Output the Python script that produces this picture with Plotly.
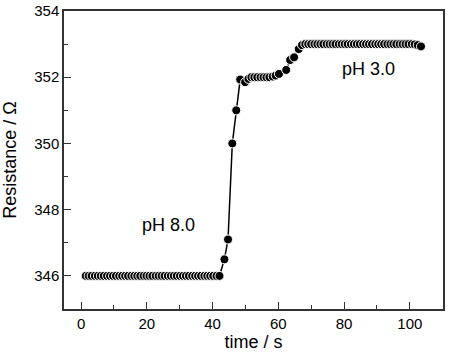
import plotly.graph_objects as go

# time (s) and resistance (Ohm)
plateau1_t = [1.4, 2.3, 3.2, 4.2, 5.1, 6.0, 6.9, 7.9, 8.8, 9.7, 10.6, 11.6, 12.5, 13.4,
              14.3, 15.3, 16.2, 17.1, 18.0, 19.0, 19.9, 20.8, 21.7, 22.7, 23.6, 24.5,
              25.4, 26.4, 27.3, 28.2, 29.1, 30.1, 31.0, 31.9, 32.8, 33.8, 34.7, 35.6,
              36.5, 37.5, 38.4, 39.3, 40.2, 41.2, 42.1]
plateau1_r = [346.0] * 45

step1_t = [43.6, 44.7, 46.0, 47.2, 48.4]
step1_r = [346.5, 347.1, 350.0, 351.0, 351.93]

plateau2_t = [49.9, 50.9, 51.8, 52.7, 53.6, 54.6, 55.5, 56.4, 57.3, 58.3, 59.2, 60.2]
plateau2_r = [351.85, 351.95, 352.0, 352.0, 352.0, 352.0, 352.0, 352.0, 352.0, 352.02,
              352.05, 352.1]

step2_t = [62.4, 63.6, 64.8, 66.2, 67.2]
step2_r = [352.22, 352.52, 352.6, 352.85, 352.97]

plateau3_t = [68.2, 69.1, 70.0, 71.0, 71.9, 72.8, 73.7, 74.7, 75.6, 76.5, 77.4, 78.4,
              79.3, 80.2, 81.1, 82.1, 83.0, 83.9, 84.8, 85.8, 86.7, 87.6, 88.5, 89.5,
              90.4, 91.3, 92.2, 93.2, 94.1, 95.0, 95.9, 96.9, 97.8, 98.7, 99.6, 100.6,
              101.5, 102.4, 103.4]
plateau3_r = [353.0] * 36 + [352.99, 352.97, 352.93]

time_s = plateau1_t + step1_t + plateau2_t + step2_t + plateau3_t
resistance = plateau1_r + step1_r + plateau2_r + step2_r + plateau3_r

labels = ["pH 8.0", "pH 3.0"]
label_x = [26.5, 87.3]
label_y = [347.55, 352.24]

x_ticks = [0, 20, 40, 60, 80, 100]
y_ticks = [346, 348, 350, 352, 354]

FONT = "Liberation Sans, Arial"

fig = go.Figure()
fig.add_trace(go.Scatter(
    x=time_s, y=resistance, mode="lines+markers",
    line=dict(color="black", width=1.5),
    marker=dict(symbol="circle", size=9, color="black",
                line=dict(color="white", width=1)),
    showlegend=False,
    cliponaxis=False,
))

for t, lx, ly in zip(labels, label_x, label_y):
    fig.add_annotation(x=lx, y=ly, text=t, showarrow=False,
                       font=dict(size=18, color="black", family=FONT))

axis_common = dict(
    showgrid=False, zeroline=False, showline=True, linecolor="#333333", linewidth=1.5,
    mirror=True, ticks="inside", ticklen=7, tickwidth=1.2, tickcolor="#333333",
    tickfont=dict(size=15, color="black", family=FONT), automargin=False,
)

fig.update_xaxes(
    range=[-5.2, 110.1], tickvals=x_ticks,
    minor=dict(dtick=10, tick0=0, ticks="inside", ticklen=4, tickcolor="#333333", tickwidth=1.2),
    title=dict(text="time / s", standoff=4,
               font=dict(size=18, color="black", family=FONT)),
    **axis_common,
)
fig.update_yaxes(
    range=[345, 354], tickvals=y_ticks,
    minor=dict(dtick=1, tick0=345, ticks="inside", ticklen=4, tickcolor="#333333", tickwidth=1.2),
    title=dict(text="Resistance / Ω", standoff=13,
               font=dict(size=18, color="black", family=FONT)),
    **axis_common,
)

fig.update_layout(
    width=450, height=353,
    margin=dict(l=64, r=7, t=11, b=44),
    plot_bgcolor="white", paper_bgcolor="white",
)

# remove the default 8px page margin so the figure fills the window exactly
fig.write_html("out.html",
               config={"displayModeBar": False},
               post_script="document.body.style.margin='0';document.body.style.overflow='hidden';")
